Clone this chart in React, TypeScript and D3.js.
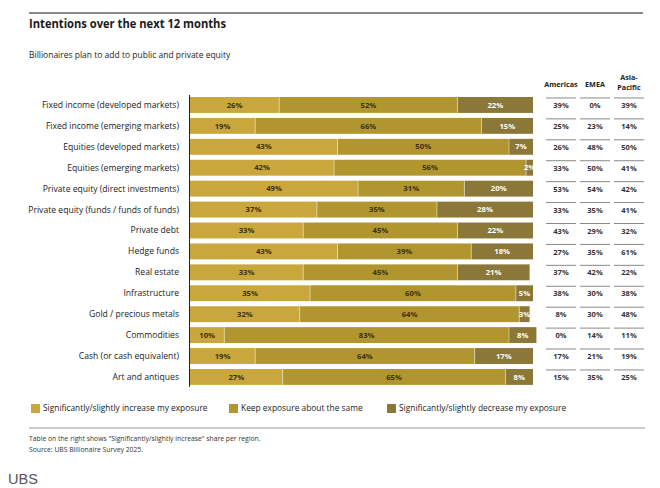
import * as d3 from "d3";

const CATEGORIES = [
  "Fixed income (developed markets)",
  "Fixed income (emerging markets)",
  "Equities (developed markets)",
  "Equities (emerging markets)",
  "Private equity (direct investments)",
  "Private equity (funds / funds of funds)",
  "Private debt",
  "Hedge funds",
  "Real estate",
  "Infrastructure",
  "Gold / precious metals",
  "Commodities",
  "Cash (or cash equivalent)",
  "Art and antiques",
];

const INCREASE = [26, 19, 43, 42, 49, 37, 33, 43, 33, 35, 32, 10, 19, 27];
const SAME     = [52, 66, 50, 56, 31, 35, 45, 39, 45, 60, 64, 83, 64, 65];
const DECREASE = [22, 15, 7, 2, 20, 28, 22, 18, 21, 5, 3, 8, 17, 8];

const AMERICAS = [39, 25, 26, 33, 53, 33, 43, 27, 37, 38, 8, 0, 17, 15];
const EMEA     = [0, 23, 48, 50, 54, 35, 29, 35, 42, 30, 30, 14, 21, 35];
const APAC     = [39, 14, 50, 41, 42, 41, 32, 61, 22, 38, 48, 11, 19, 25];

const SERIES = [
  { key: "Significantly/slightly increase my exposure", values: INCREASE, color: "#C9A73C", text: "#3b3010" },
  { key: "Keep exposure about the same", values: SAME, color: "#B1962F", text: "#3b3010" },
  { key: "Significantly/slightly decrease my exposure", values: DECREASE, color: "#8B7738", text: "#ffffff" },
];

const REGIONS = [
  { name: ["Americas"], values: AMERICAS },
  { name: ["EMEA"], values: EMEA },
  { name: ["Asia-", "Pacific"], values: APAC },
];

const FONT = "'Open Sans', 'Noto Sans', sans-serif";

export default function App() {
  const W = 660, H = 488;
  const x = d3.scaleLinear().domain([0, 100]).range([190, 533]);
  const y = d3.scaleBand<string>().domain(CATEGORIES).range([94.5, 387.4]).paddingInner(0.24).paddingOuter(0.12);
  const colX = d3.scalePoint<number>().domain([0, 1, 2]).range([561, 629]);
  const bw = y.bandwidth();

  const legendX = [31, 229, 387];

  return (
    <div style={{ position: "absolute", left: 0, top: 0, width: W, height: H, background: "#fff" }}>
      <svg width={W} height={H} style={{ display: "block", fontFamily: FONT }}>
        <rect width={W} height={H} fill="#fff" />
        <line x1={29} x2={643} y1={13} y2={13} stroke="#666" strokeWidth={1.5} />
        <text x={29} y={28} fontSize={12} fontWeight={700} fill="#1a1a1a" textLength={197} lengthAdjust="spacingAndGlyphs">Intentions over the next 12 months</text>
        <text x={29} y={58} fontSize={8.5} fill="#222">Billionaires plan to add to public and private equity</text>

        {/* row labels */}
        {CATEGORIES.map(c => (
          <text key={c} x={179} y={(y(c) ?? 0) + bw / 2} dy="0.35em" textAnchor="end" fontSize={8.6} fill="#222">{c}</text>
        ))}

        {/* stacked bars */}
        {CATEGORIES.map((c, i) => {
          let acc = 0;
          const y0 = y(c) ?? 0;
          return (
            <g key={c}>
              {SERIES.map((s, si) => {
                const v = s.values[i];
                const x0 = x(acc), x1 = x(acc + v);
                acc += v;
                return (
                  <g key={s.key}>
                    <rect x={x0} y={y0} width={x1 - x0} height={bw} fill={s.color} />
                    {si > 0 && <line x1={x0} x2={x0} y1={y0} y2={y0 + bw} stroke="#fff" strokeOpacity={0.45} strokeWidth={1} />}
                    <text x={(x0 + x1) / 2} y={y0 + bw / 2} dy="0.35em" textAnchor="middle" fontSize={7.7} fontWeight={700} fill={s.text}>{v}%</text>
                  </g>
                );
              })}
            </g>
          );
        })}
        <line x1={189.5} x2={189.5} y1={(y(CATEGORIES[0]) ?? 0) - 2} y2={(y(CATEGORIES[CATEGORIES.length - 1]) ?? 0) + bw + 2} stroke="#222" strokeWidth={1} />

        {/* region table */}
        {REGIONS.map((r, ri) => (
          <g key={ri}>
            {r.name.length === 1 ? (
              <text x={colX(ri)} y={87} textAnchor="middle" fontSize={7.2} fontWeight={700} fill="#222">{r.name[0]}</text>
            ) : (
              <>
                <text x={colX(ri)} y={80} textAnchor="middle" fontSize={7.2} fontWeight={700} fill="#222">{r.name[0]}</text>
                <text x={colX(ri)} y={90} textAnchor="middle" fontSize={7.2} fontWeight={700} fill="#222">{r.name[1]}</text>
              </>
            )}
            {CATEGORIES.map((c, i) => {
              const cy = (y(c) ?? 0) + bw / 2;
              const cx = colX(ri) ?? 0;
              return (
                <g key={c}>
                  <line x1={cx - 15} x2={cx + 15} y1={cy - 7} y2={cy - 7} stroke="#888" strokeWidth={1} />
                  <text x={cx} y={cy + 0.5} dy="0.35em" textAnchor="middle" fontSize={7.5} fontWeight={700} fill="#333">{r.values[i]}%</text>
                </g>
              );
            })}
          </g>
        ))}

        {/* legend */}
        {SERIES.map((s, si) => (
          <g key={s.key} transform={`translate(${legendX[si]},404)`}>
            <rect width={9} height={9} fill={s.color} />
            <text x={12} y={4.5} dy="0.35em" fontSize={8.4} fill="#222">{s.key}</text>
          </g>
        ))}
        <line x1={29} x2={645} y1={428} y2={428} stroke="#999" strokeWidth={1} />
        <text x={29} y={440.5} fontSize={6.8} fill="#333">Table on the right shows "Significantly/slightly increase" share per region.</text>
        <text x={29} y={452} fontSize={6.8} fill="#333">Source: UBS Billionaire Survey 2025.</text>
        <text x={8} y={484} fontSize={14.5} fill="#555" fontFamily="'Liberation Sans', Arial, sans-serif">UBS</text>
      </svg>
    </div>
  );
}
